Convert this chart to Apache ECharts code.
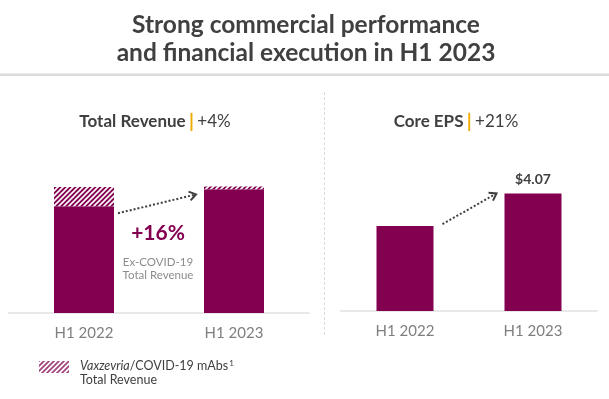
<!DOCTYPE html>
<html>
<head>
<meta charset="utf-8">
<script src="https://cdn.jsdelivr.net/npm/echarts@6/dist/echarts.min.js"></script>
<style>
  html, body { margin: 0; padding: 0; background: #fff; }
  #main { width: 609px; height: 399px; }
</style>
</head>
<body>
<div id="main"></div>
<script>
// values ($bn for revenue, $ for EPS)
var categories = ['H1 2022', 'H1 2023'];
var revenueExCovid = [18.9, 21.9];
var revenueCovid = [3.4, 0.5];
var coreEps = [2.94, 4.07];
var epsLabels = ['', '$4.07'];

var MULBERRY = '#830051';
var FONT = 'Lato';

function hatch(bg, fg, size, lw) {
    var c = document.createElement('canvas');
    c.width = size; c.height = size;
    var ctx = c.getContext('2d');
    ctx.fillStyle = bg;
    ctx.fillRect(0, 0, size, size);
    ctx.strokeStyle = fg;
    ctx.lineWidth = lw;
    ctx.beginPath();
    ctx.moveTo(-1, 1); ctx.lineTo(1, -1);
    ctx.moveTo(0, size); ctx.lineTo(size, 0);
    ctx.moveTo(size - 1, size + 1); ctx.lineTo(size + 1, size - 1);
    ctx.stroke();
    return c;
}

var barHatch = hatch(MULBERRY, '#ffffff', 5, 1.6);
var legendHatch = hatch('#ffffff', '#a2457f', 5, 1.8);

var myChart = echarts.init(document.getElementById('main'));

function catAxis(idx) {
    return {
        type: 'category',
        gridIndex: idx,
        data: categories,
        axisTick: { show: false },
        axisLine: { lineStyle: { color: '#e8e8e8', width: 2 } },
        axisLabel: { color: '#7f7f7f', fontFamily: FONT, fontSize: 15, margin: 13 }
    };
}

var option = {
    animation: false,
    backgroundColor: '#ffffff',
    grid: [
        { left: 9, right: 300, top: 87, bottom: 86 },
        { left: 341, right: 12, top: 80, bottom: 88 }
    ],
    xAxis: [catAxis(0), catAxis(1)],
    yAxis: [
        { type: 'value', gridIndex: 0, min: 0, max: 40, show: false, splitLine: { show: false } },
        { type: 'value', gridIndex: 1, min: 0, max: 8, show: false, splitLine: { show: false } }
    ],
    series: [
        {
            name: 'Ex-COVID-19',
            type: 'bar',
            xAxisIndex: 0, yAxisIndex: 0,
            stack: 'rev',
            barWidth: 60,
            itemStyle: { color: MULBERRY },
            data: revenueExCovid
        },
        {
            name: 'Vaxzevria/COVID-19 mAbs',
            type: 'bar',
            xAxisIndex: 0, yAxisIndex: 0,
            stack: 'rev',
            barWidth: 60,
            itemStyle: { color: { image: barHatch, repeat: 'repeat' } },
            data: revenueCovid
        },
        {
            name: 'Core EPS',
            type: 'bar',
            xAxisIndex: 1, yAxisIndex: 1,
            barWidth: 57,
            itemStyle: { color: MULBERRY },
            label: {
                show: true,
                position: 'top',
                distance: 7,
                color: '#404040',
                fontFamily: FONT,
                fontWeight: 'bold',
                fontSize: 14,
                formatter: function (p) { return epsLabels[p.dataIndex]; }
            },
            data: coreEps
        }
    ]
};
myChart.setOption(option);

// dotted arrow between two bar tops
function arrow(x1, y1, x2, y2) {
    var a = Math.atan2(y2 - y1, x2 - x1);
    var h = 8;
    var p1 = [x2 - h * Math.cos(a - 0.6), y2 - h * Math.sin(a - 0.6)];
    var p2 = [x2 - h * Math.cos(a + 0.6), y2 - h * Math.sin(a + 0.6)];
    return [
        { type: 'line', shape: { x1: x1, y1: y1, x2: x2, y2: y2 },
          style: { stroke: '#3f3f3f', lineWidth: 2, lineDash: [2, 2] } },
        { type: 'polyline', shape: { points: [p1, [x2, y2], p2] },
          style: { stroke: '#3f3f3f', lineWidth: 2, fill: null } }
    ];
}

var r0 = myChart.convertToPixel({ xAxisIndex: 0, yAxisIndex: 0 }, [0, revenueExCovid[0]]);
var r1 = myChart.convertToPixel({ xAxisIndex: 0, yAxisIndex: 0 }, [1, revenueExCovid[1] + revenueCovid[1]]);
var e0 = myChart.convertToPixel({ xAxisIndex: 1, yAxisIndex: 1 }, [0, coreEps[0]]);
var e1 = myChart.convertToPixel({ xAxisIndex: 1, yAxisIndex: 1 }, [1, coreEps[1]]);

var panelRich = {
    b: { fontFamily: FONT, fontWeight: 'bold', fontSize: 17, fill: '#404040' },
    o: { fontFamily: FONT, fontWeight: 'bold', fontSize: 19, fill: '#f0ab00' },
    n: { fontFamily: FONT, fontSize: 17, fill: '#404040' }
};

var graphics = [
    { type: 'text', x: 306, y: 25, style: { text: 'Strong commercial performance', fill: '#404040',
        font: 'bold 24.5px ' + FONT, textAlign: 'center', textVerticalAlign: 'middle' } },
    { type: 'text', x: 306, y: 53, style: { text: 'and financial execution in H1 2023', fill: '#404040',
        font: 'bold 24.5px ' + FONT, textAlign: 'center', textVerticalAlign: 'middle' } },
    { type: 'rect', shape: { x: 0, y: 73.5, width: 609, height: 2.5 }, style: { fill: '#dcdcdc' } },
    { type: 'text', x: 155, y: 122, style: {
        text: '{b|Total Revenue} {o||} {n|+4%}', textAlign: 'center', textVerticalAlign: 'middle',
        rich: panelRich } },
    { type: 'text', x: 456, y: 122, style: {
        text: '{b|Core EPS} {o||} {n|+21%}', textAlign: 'center', textVerticalAlign: 'middle',
        rich: panelRich } },
    { type: 'text', x: 158, y: 233, style: { text: '+16%', fill: MULBERRY,
        font: 'bold 21px ' + FONT, textAlign: 'center', textVerticalAlign: 'middle' } },
    { type: 'text', x: 158, y: 262, style: { text: 'Ex-COVID-19', fill: '#8c8c8c',
        font: '11.5px ' + FONT, textAlign: 'center', textVerticalAlign: 'middle' } },
    { type: 'text', x: 158, y: 275.5, style: { text: 'Total Revenue', fill: '#8c8c8c',
        font: '11.5px ' + FONT, textAlign: 'center', textVerticalAlign: 'middle' } },
    { type: 'line', shape: { x1: 324.5, y1: 92, x2: 324.5, y2: 336 },
      style: { stroke: '#dadada', lineWidth: 1, lineDash: [3, 2] } },
    { type: 'rect', shape: { x: 39, y: 361, width: 30, height: 12 },
      style: { fill: { image: legendHatch, repeat: 'repeat' } } },
    { type: 'text', x: 80, y: 366, style: {
        text: '{i|Vaxzevria}{n|/COVID-19 mAbs}{s|1}', textVerticalAlign: 'middle',
        rich: {
            i: { fontFamily: FONT, fontStyle: 'italic', fontSize: 12.5, fill: '#404040' },
            n: { fontFamily: FONT, fontSize: 12.5, fill: '#404040' },
            s: { fontFamily: FONT, fontSize: 8, fill: '#404040', verticalAlign: 'top', padding: [0, 0, 5, 1] }
        } } },
    { type: 'text', x: 80, y: 380, style: { text: 'Total Revenue', fill: '#404040',
        font: '12.5px ' + FONT, textVerticalAlign: 'middle' } }
];

graphics = graphics
    .concat(arrow(r0[0] + 30 + 4, r0[1] + 7, r1[0] - 30 - 8, r1[1] + 8))
    .concat(arrow(e0[0] + 28.5 + 9, e0[1] - 2, e1[0] - 28.5 - 8, e1[1]));

myChart.setOption({ graphic: graphics });
</script>
</body>
</html>
